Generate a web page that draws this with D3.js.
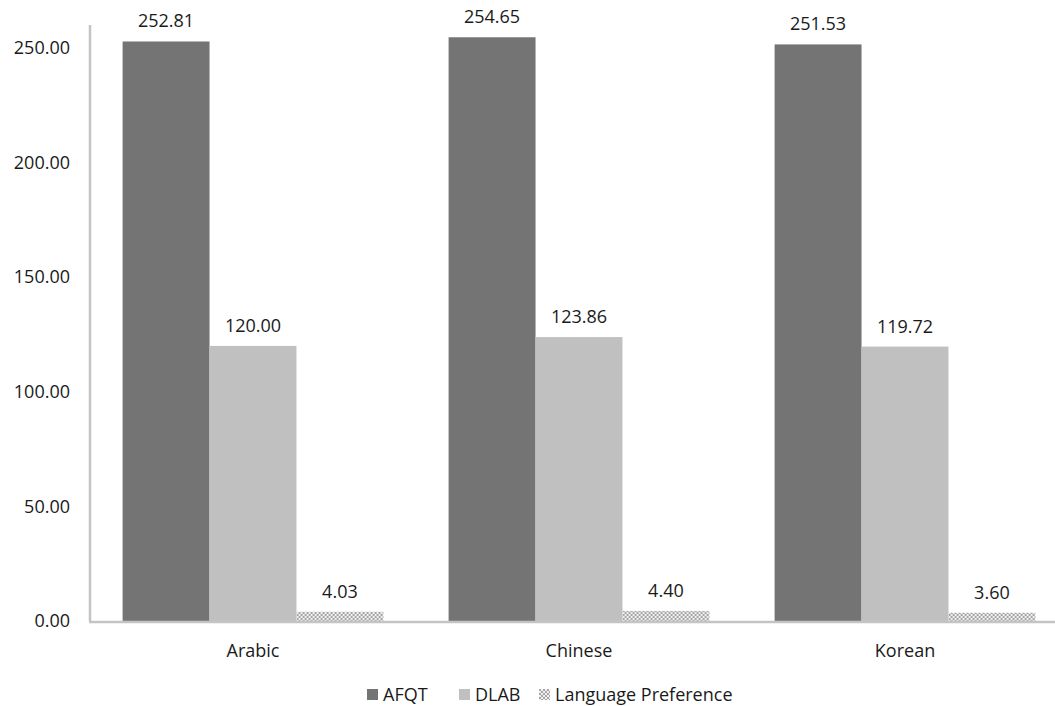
<!DOCTYPE html>
<html>
<head>
<meta charset="utf-8">
<script src="https://cdn.jsdelivr.net/npm/d3@7"></script>
<style>
  html, body { margin: 0; padding: 0; background: #fff; overflow: hidden; }
  svg { display: block; font-family: "Open Sans", "Liberation Sans", sans-serif; }
</style>
</head>
<body>
<svg id="chart" width="1055" height="706"></svg>
<script>
// Scores by language group
const categories = ["Arabic", "Chinese", "Korean"];
const seriesNames = ["AFQT", "DLAB", "Language Preference"];
const afqt = [252.81, 254.65, 251.53];
const dlab = [120.00, 123.86, 119.72];
const langPref = [4.03, 4.40, 3.60];
const yTicks = [0, 50, 100, 150, 200, 250];

const seriesValues = [afqt, dlab, langPref];

const svg = d3.select("#chart");
const W = 1055, H = 706;
const margin = { left: 90, top: 25, bottom: 85 };
const plotRight = 1068;           // plot area runs slightly past the frame edge
const plotBottom = H - margin.bottom;
const fontSize = 18;
const textColor = "#1a1a1a";

// Checkered fill for the third series
const defs = svg.append("defs");
const pat = defs.append("pattern")
  .attr("id", "checker")
  .attr("width", 4).attr("height", 4)
  .attr("patternUnits", "userSpaceOnUse");
pat.append("rect").attr("width", 4).attr("height", 4).attr("fill", "#f0f0f0");
pat.append("rect").attr("width", 2).attr("height", 2).attr("fill", "#a6a6a6");
pat.append("rect").attr("x", 2).attr("y", 2).attr("width", 2).attr("height", 2).attr("fill", "#a6a6a6");

const fills = ["#747474", "#c0c0c0", "url(#checker)"];

const y = d3.scaleLinear().domain([0, 260]).range([plotBottom, margin.top]);
const x0 = d3.scaleBand().domain(categories)
  .range([margin.left, plotRight])
  .paddingInner(0.2).paddingOuter(0.1);
const x1 = d3.scaleBand().domain(seriesNames).range([0, x0.bandwidth()]);

// Y tick labels
svg.append("g").selectAll("text").data(yTicks).join("text")
  .attr("x", 70)
  .attr("y", d => y(d))
  .attr("dy", "0.35em")
  .attr("text-anchor", "end")
  .attr("font-size", fontSize)
  .attr("fill", textColor)
  .text(d => d3.format(".2f")(d));

// Bars
const groups = svg.append("g").selectAll("g").data(categories).join("g")
  .attr("transform", c => `translate(${x0(c)},0)`);

const cells = (c, i) => seriesNames.map((s, j) => ({ s, j, v: seriesValues[j][i] }));

groups.selectAll("rect").data(cells).join("rect")
  .attr("x", d => x1(d.s))
  .attr("width", x1.bandwidth())
  .attr("y", d => y(d.v))
  .attr("height", d => plotBottom - y(d.v))
  .attr("fill", d => fills[d.j]);

// Value labels
groups.selectAll("text").data(cells).join("text")
  .attr("x", d => x1(d.s) + x1.bandwidth() / 2)
  .attr("y", d => y(d.v) - 14)
  .attr("text-anchor", "middle")
  .attr("font-size", fontSize)
  .attr("fill", textColor)
  .text(d => d3.format(".2f")(d.v));

// Axis lines
svg.append("line")
  .attr("x1", margin.left).attr("x2", margin.left)
  .attr("y1", margin.top).attr("y2", plotBottom)
  .attr("stroke", "#c4c4c4").attr("stroke-width", 2.5);
svg.append("line")
  .attr("x1", margin.left - 1).attr("x2", W)
  .attr("y1", plotBottom + 1).attr("y2", plotBottom + 1)
  .attr("stroke", "#c4c4c4").attr("stroke-width", 2.5);

// Category labels
svg.append("g").selectAll("text").data(categories).join("text")
  .attr("x", c => x0(c) + x0.bandwidth() / 2)
  .attr("y", 657)
  .attr("text-anchor", "middle")
  .attr("font-size", fontSize)
  .attr("fill", textColor)
  .text(c => c);

// Legend
const legendX = [367, 459, 539];
const legend = svg.append("g").selectAll("g").data(seriesNames).join("g")
  .attr("transform", (d, i) => `translate(${legendX[i]},689)`);
legend.append("rect")
  .attr("width", 11).attr("height", 11)
  .attr("fill", (d, i) => fills[i]);
legend.append("text")
  .attr("x", 16).attr("y", 6).attr("dy", "0.35em")
  .attr("font-size", fontSize)
  .attr("fill", textColor)
  .text(d => d);
</script>
</body>
</html>
